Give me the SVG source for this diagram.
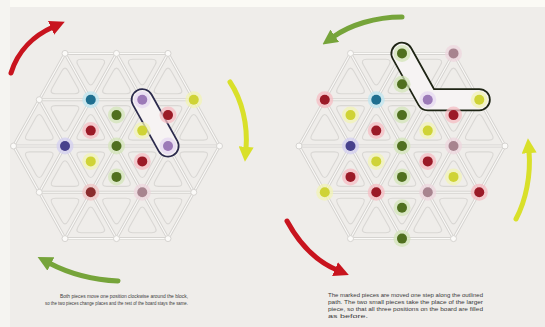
<svg xmlns="http://www.w3.org/2000/svg" xmlns:xlink="http://www.w3.org/1999/xlink" width="545" height="327" viewBox="0 0 545 327">
<style>
.lat{fill:none;stroke:#d6d4d1;stroke-width:3;stroke-linecap:round}
.latw{fill:none;stroke:#fbfaf8;stroke-width:1.1;stroke-linecap:round}
.tri{fill:none;stroke:#d9d7d4;stroke-width:1.1}
.vx{fill:#fbfaf8;stroke:#d6d4d1;stroke-width:1}
.h{opacity:.75;fill:var(--h)}
.c{fill:var(--c)}
.red{--h:#f5bcc3;--c:#9b1a27}
.brn{--h:#f0c4c4;--c:#8a2c2c}
.grn{--h:#d3e4b8;--c:#50701f}
.yel{--h:#f1f3b4;--c:#cfd336}
.cyn{--h:#bfe6f0;--c:#1f6f90}
.ind{--h:#d3cff0;--c:#47418c}
.lpu{--h:#e6d8f2;--c:#9c7ab8}
.mau{--h:#eed6de;--c:#a8848f}
.arr{fill:none;stroke-width:5;stroke-linecap:round}
.txt{font-family:"Liberation Sans",Arial,sans-serif;font-size:5px;fill:#3a3a3a}
</style>
<defs>
<marker id="ah-red" markerUnits="userSpaceOnUse" markerWidth="15" markerHeight="15" refX="2" refY="7" orient="auto" viewBox="0 0 14 14"><path d="M0,0L14,7L0,14Z" fill="#c8141e"/></marker>
<marker id="ah-yel" markerUnits="userSpaceOnUse" markerWidth="15" markerHeight="15" refX="2" refY="7" orient="auto" viewBox="0 0 14 14"><path d="M0,0L14,7L0,14Z" fill="#d9e02a"/></marker>
<marker id="ah-grn" markerUnits="userSpaceOnUse" markerWidth="15" markerHeight="15" refX="2" refY="7" orient="auto" viewBox="0 0 14 14"><path d="M0,0L14,7L0,14Z" fill="#76a43a"/></marker>
<path id="tu" d="M3.2,-13.3L12.8,3.8Q16,9.5 9.6,9.5L-9.6,9.5Q-16,9.5 -12.8,3.8L-3.2,-13.3Q0,-19 3.2,-13.3Z"/>
<path id="td" d="M3.2,13.3L12.8,-3.8Q16,-9.5 9.6,-9.5L-9.6,-9.5Q-16,-9.5 -12.8,-3.8L-3.2,13.3Q0,19 3.2,13.3Z"/>
<g id="grid">
<path id="latp" d="M65,53.4H168M39.25,99.7H193.75M13.5,146H219.5M39.25,192.3H193.75M65,238.6H168M65,53.4L13.5,146M116.5,53.4L39.25,192.3M168,53.4L65,238.6M193.75,99.7L116.5,238.6M219.5,146L168,238.6M168,53.4L219.5,146M116.5,53.4L193.75,192.3M65,53.4L168,238.6M39.25,99.7L116.5,238.6M13.5,146L65,238.6"/>
<use xlink:href="#latp" class="lat"/>
<use xlink:href="#latp" class="latw"/>
<g class="tri">
<use xlink:href="#tu" x="65" y="84.3"/><use xlink:href="#tu" x="116.5" y="84.3"/><use xlink:href="#tu" x="168" y="84.3"/>
<use xlink:href="#td" x="90.75" y="68.8"/><use xlink:href="#td" x="142.25" y="68.8"/>
<use xlink:href="#tu" x="39.25" y="130.6"/><use xlink:href="#tu" x="90.75" y="130.6"/><use xlink:href="#tu" x="142.25" y="130.6"/><use xlink:href="#tu" x="193.75" y="130.6"/>
<use xlink:href="#td" x="65" y="115.1"/><use xlink:href="#td" x="116.5" y="115.1"/><use xlink:href="#td" x="168" y="115.1"/>
<use xlink:href="#td" x="39.25" y="161.4"/><use xlink:href="#td" x="90.75" y="161.4"/><use xlink:href="#td" x="142.25" y="161.4"/><use xlink:href="#td" x="193.75" y="161.4"/>
<use xlink:href="#tu" x="65" y="176.9"/><use xlink:href="#tu" x="116.5" y="176.9"/><use xlink:href="#tu" x="168" y="176.9"/>
<use xlink:href="#td" x="65" y="207.7"/><use xlink:href="#td" x="116.5" y="207.7"/><use xlink:href="#td" x="168" y="207.7"/>
<use xlink:href="#tu" x="90.75" y="223.2"/><use xlink:href="#tu" x="142.25" y="223.2"/>
</g>
<g class="vx">
<circle cx="65" cy="53.4" r="3"/><circle cx="116.5" cy="53.4" r="3"/><circle cx="168" cy="53.4" r="3"/>
<circle cx="39.25" cy="99.7" r="3"/><circle cx="90.75" cy="99.7" r="3"/><circle cx="142.25" cy="99.7" r="3"/><circle cx="193.75" cy="99.7" r="3"/>
<circle cx="13.5" cy="146" r="3"/><circle cx="65" cy="146" r="3"/><circle cx="116.5" cy="146" r="3"/><circle cx="168" cy="146" r="3"/><circle cx="219.5" cy="146" r="3"/>
<circle cx="39.25" cy="192.3" r="3"/><circle cx="90.75" cy="192.3" r="3"/><circle cx="142.25" cy="192.3" r="3"/><circle cx="193.75" cy="192.3" r="3"/>
<circle cx="65" cy="238.6" r="3"/><circle cx="116.5" cy="238.6" r="3"/><circle cx="168" cy="238.6" r="3"/>
</g>
</g>
<g id="dot"><circle class="h" r="8.5"/><circle class="c" r="5"/></g>
</defs>

<rect width="545" height="327" fill="#efedea"/>
<rect width="545" height="7" fill="#fbfaf5"/>
<rect width="10" height="327" fill="#f5f4f1"/>

<g id="board-left">
<use xlink:href="#grid"/>
</g>
<g id="board-right">
<use xlink:href="#grid" x="285.5"/>
</g>

<g id="selections">
<g id="sel-left">
<path d="M142.25,99.7L168,146" fill="none" stroke="#2b2a4c" stroke-width="23" stroke-linecap="round"/>
<path d="M142.25,99.7L168,146" fill="none" stroke="#f6f3f3" stroke-width="19.5" stroke-linecap="round"/>
</g>
<g id="sel-right">
<path d="M402,53.4L427.75,99.7H479.25" fill="none" stroke="#1e2414" stroke-width="23" stroke-linecap="round" stroke-linejoin="round"/>
<path d="M402,53.4L427.75,99.7H479.25" fill="none" stroke="#f6f3f3" stroke-width="19.5" stroke-linecap="round" stroke-linejoin="round"/>
</g>
</g>

<g id="dots-left">
<use id="L1" xlink:href="#dot" class="cyn" x="90.75" y="99.7"/>
<use id="L2" xlink:href="#dot" class="lpu" x="142.25" y="99.7"/>
<use id="L3" xlink:href="#dot" class="yel" x="193.75" y="99.7"/>
<use id="L4" xlink:href="#dot" class="grn" x="116.5" y="115.1"/>
<use id="L5" xlink:href="#dot" class="red" x="168" y="115.1"/>
<use id="L6" xlink:href="#dot" class="red" x="90.75" y="130.6"/>
<use id="L7" xlink:href="#dot" class="yel" x="142.25" y="130.6"/>
<use id="L8" xlink:href="#dot" class="ind" x="65" y="146"/>
<use id="L9" xlink:href="#dot" class="grn" x="116.5" y="146"/>
<use id="L10" xlink:href="#dot" class="lpu" x="168" y="146"/>
<use id="L11" xlink:href="#dot" class="yel" x="90.75" y="161.4"/>
<use id="L12" xlink:href="#dot" class="red" x="142.25" y="161.4"/>
<use id="L13" xlink:href="#dot" class="grn" x="116.5" y="176.9"/>
<use id="L14" xlink:href="#dot" class="brn" x="90.75" y="192.3"/>
<use id="L15" xlink:href="#dot" class="mau" x="142.25" y="192.3"/>
</g>

<g id="dots-right">
<use id="R1" xlink:href="#dot" class="grn" x="402" y="53.4"/>
<use id="R2" xlink:href="#dot" class="mau" x="453.5" y="53.4"/>
<use id="R3" xlink:href="#dot" class="grn" x="402" y="84.3"/>
<use id="R4" xlink:href="#dot" class="red" x="324.75" y="99.7"/>
<use id="R5" xlink:href="#dot" class="cyn" x="376.25" y="99.7"/>
<use id="R6" xlink:href="#dot" class="lpu" x="427.75" y="99.7"/>
<use id="R7" xlink:href="#dot" class="yel" x="479.25" y="99.7"/>
<use id="R8" xlink:href="#dot" class="yel" x="350.5" y="115.1"/>
<use id="R9" xlink:href="#dot" class="grn" x="402" y="115.1"/>
<use id="R10" xlink:href="#dot" class="red" x="453.5" y="115.1"/>
<use id="R11" xlink:href="#dot" class="red" x="376.25" y="130.6"/>
<use id="R12" xlink:href="#dot" class="yel" x="427.75" y="130.6"/>
<use id="R13" xlink:href="#dot" class="ind" x="350.5" y="146"/>
<use id="R14" xlink:href="#dot" class="grn" x="402" y="146"/>
<use id="R15" xlink:href="#dot" class="mau" x="453.5" y="146"/>
<use id="R16" xlink:href="#dot" class="yel" x="376.25" y="161.4"/>
<use id="R17" xlink:href="#dot" class="red" x="427.75" y="161.4"/>
<use id="R18" xlink:href="#dot" class="red" x="350.5" y="176.9"/>
<use id="R19" xlink:href="#dot" class="grn" x="402" y="176.9"/>
<use id="R20" xlink:href="#dot" class="yel" x="453.5" y="176.9"/>
<use id="R21" xlink:href="#dot" class="yel" x="324.75" y="192.3"/>
<use id="R22" xlink:href="#dot" class="red" x="376.25" y="192.3"/>
<use id="R23" xlink:href="#dot" class="mau" x="427.75" y="192.3"/>
<use id="R24" xlink:href="#dot" class="red" x="479.25" y="192.3"/>
<use id="R25" xlink:href="#dot" class="grn" x="402" y="207.7"/>
<use id="R26" xlink:href="#dot" class="grn" x="402" y="238.6"/>
</g>

<g id="connectors">
<path class="arr" stroke="#c8141e" marker-end="url(#ah-red)" d="M11,73C18,50 35,35 53,27"/>
<path class="arr" stroke="#d9e02a" marker-end="url(#ah-yel)" d="M230,82C242,100 248,125 246,149"/>
<path class="arr" stroke="#76a43a" marker-end="url(#ah-grn)" d="M118,281C95,280 70,274 49,263"/>
<path class="arr" stroke="#76a43a" marker-end="url(#ah-grn)" d="M402,17C375,17 350,25 333,37"/>
<path class="arr" stroke="#d9e02a" marker-end="url(#ah-yel)" d="M516,219C526,200 531,175 529,151"/>
<path class="arr" stroke="#c8141e" marker-end="url(#ah-red)" d="M287,221C300,245 318,262 337,270"/>
</g>

<g id="caption-left" class="txt">
<text x="60" y="298" textLength="128" lengthAdjust="spacingAndGlyphs">Both pieces move one position clockwise around the block,</text>
<text x="45" y="305" textLength="143" lengthAdjust="spacingAndGlyphs">so the two pieces change places and the rest of the board stays the same.</text>
</g>
<g id="caption-right" class="txt">
<text x="328" y="297" textLength="155" lengthAdjust="spacingAndGlyphs">The marked pieces are moved one step along the outlined</text>
<text x="328" y="304" textLength="155" lengthAdjust="spacingAndGlyphs">path. The two small pieces take the place of the larger</text>
<text x="328" y="311" textLength="155" lengthAdjust="spacingAndGlyphs">piece, so that all three positions on the board are filled</text>
<text x="328" y="318" textLength="40" lengthAdjust="spacingAndGlyphs">as before.</text>
</g>
</svg>
